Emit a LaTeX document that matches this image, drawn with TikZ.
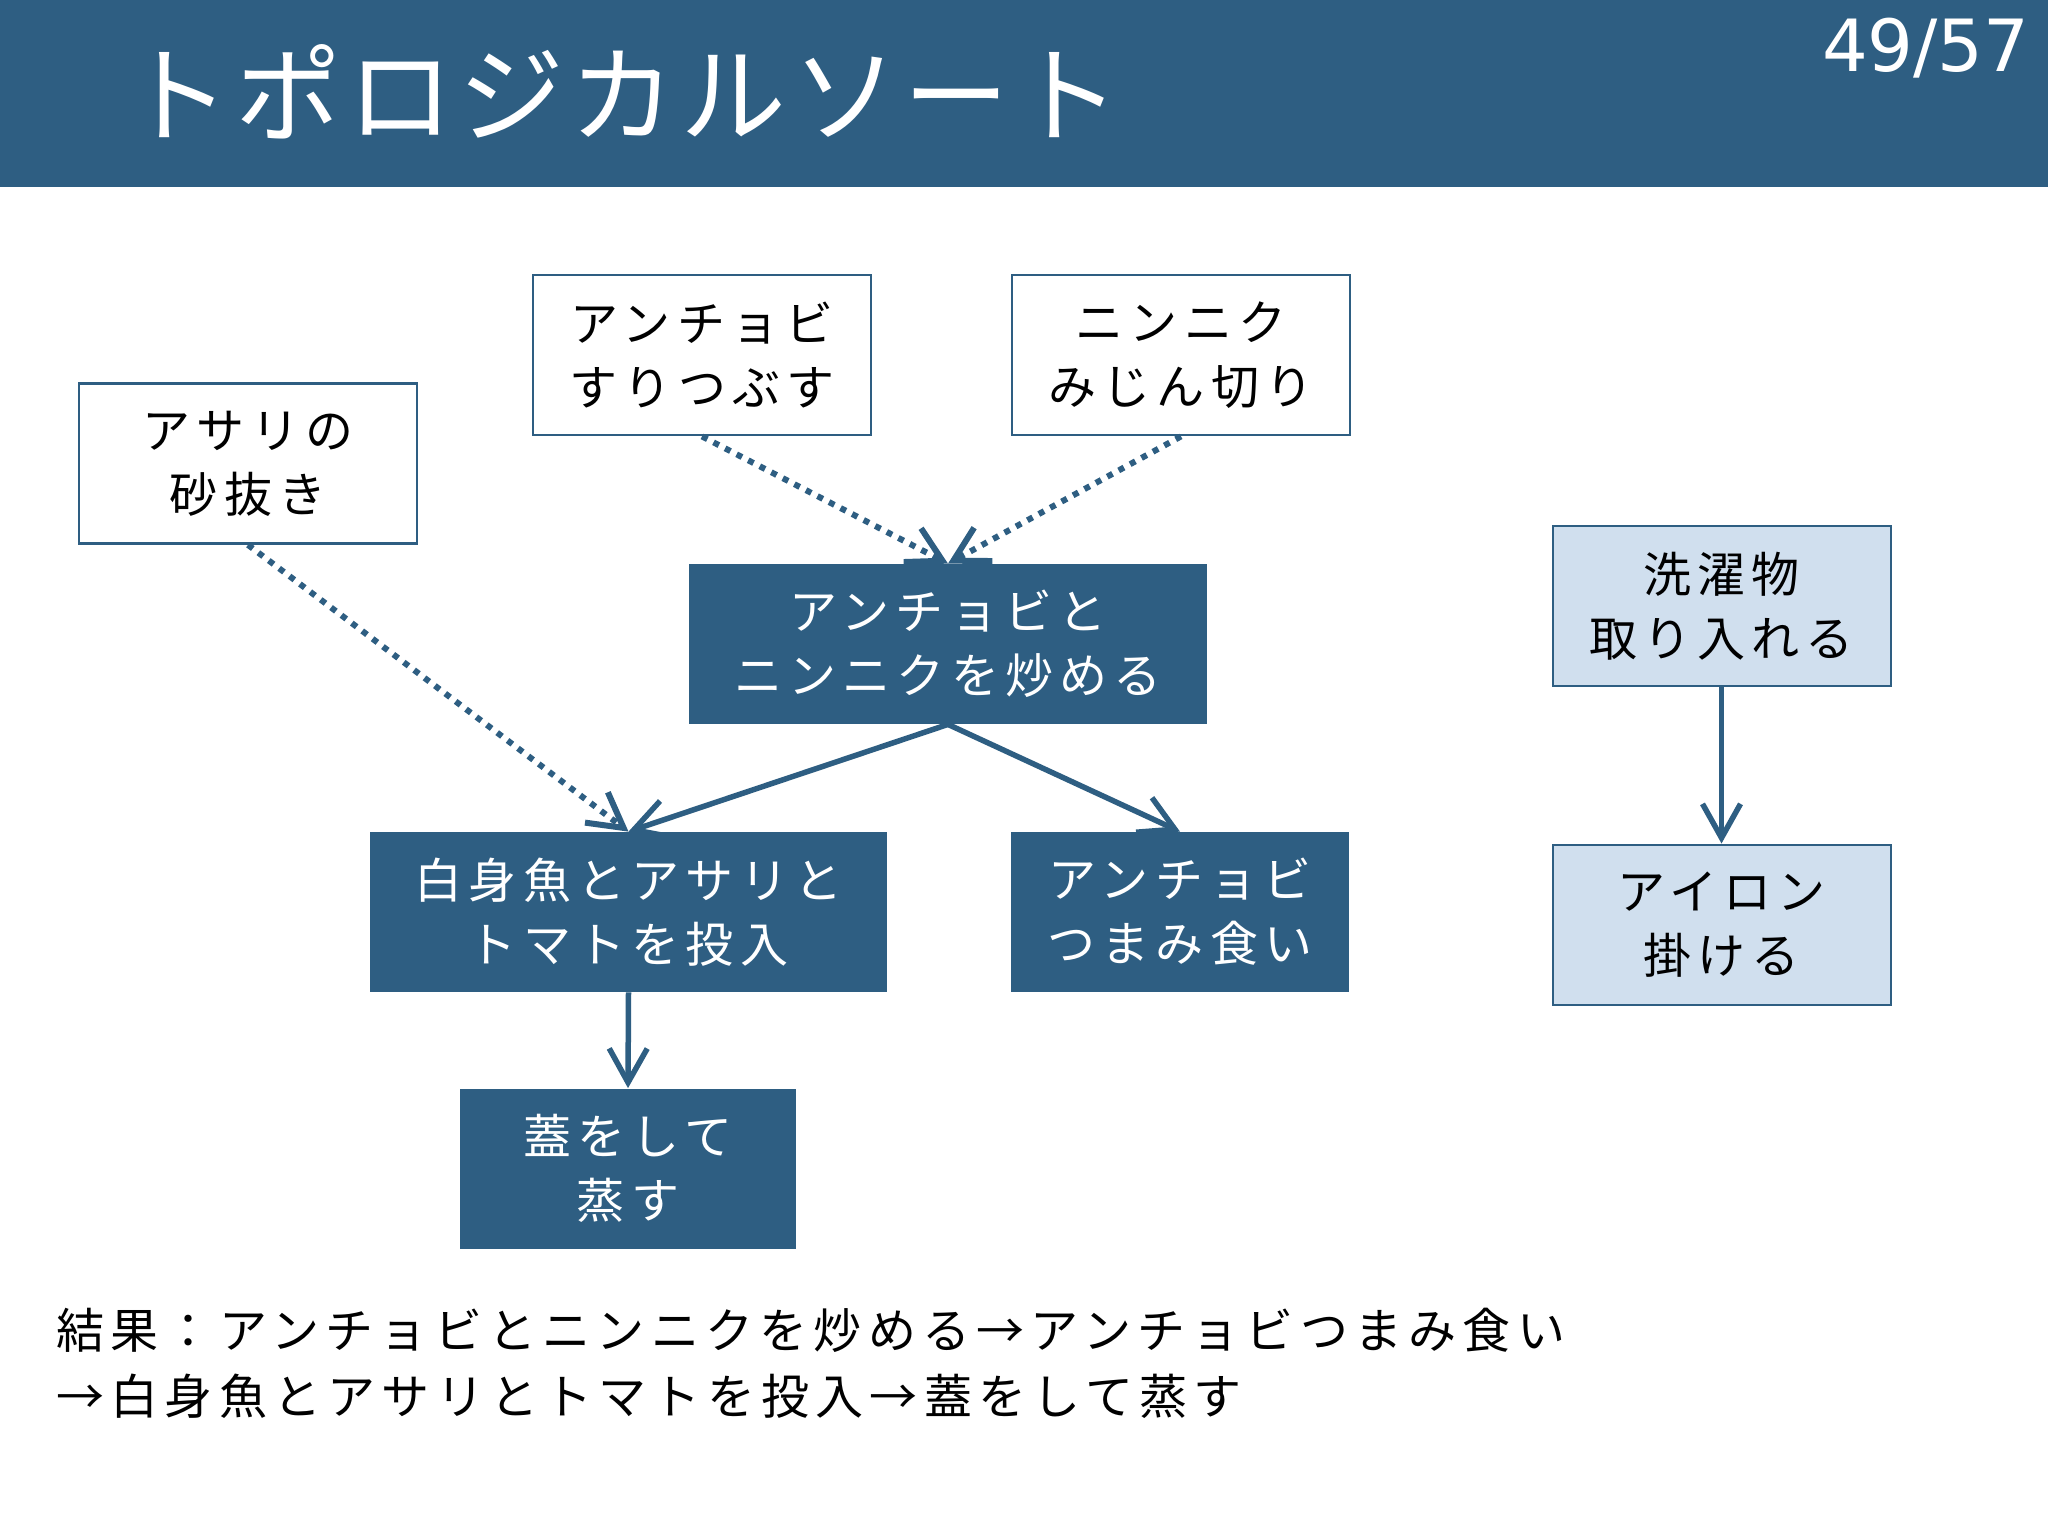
\documentclass[tikz,border=0pt]{standalone}
\usepackage{fontspec}
\setmainfont{Noto Sans CJK JP}[LetterSpace=13]
\newfontfamily\titlefont{Noto Sans CJK JP}[LetterSpace=5]
\newfontfamily\numfont{DejaVu Sans}
\usetikzlibrary{arrows.meta}
\definecolor{dblue}{HTML}{2E5E82}
\definecolor{lblue}{HTML}{D0DFEE}
\tikzset{
  txt/.style={font=\fontsize{24pt}{32pt}\selectfont, align=center, inner sep=0pt},
  wbox/.style={txt, draw=dblue, line width=1.4pt, fill=white, text=black, minimum width=169pt, minimum height=80pt},
  dbox/.style={txt, fill=dblue, text=white, minimum height=80pt},
  lbox/.style={txt, draw=dblue, line width=1pt, fill=lblue, text=black, minimum width=169pt, minimum height=80pt},
  solidarr/.style={draw=dblue, line width=2.75pt, -{Straight Barb[length=17pt,width=19pt]}},
  dotarr/.style={draw=dblue, line width=3pt, dash pattern=on 3pt off 3.5pt, -{Straight Barb[length=17pt,width=19pt]}},
}
\begin{document}
\begin{tikzpicture}[x=0.5pt,y=-0.5pt]
\useasboundingbox (0,0) rectangle (2048,1536);
\fill[white] (0,0) rectangle (2048,1536);
\fill[dblue] (0,0) rectangle (2048,187);
\node[anchor=west, inner sep=0pt, text=white, font=\titlefont\fontsize{53pt}{60pt}\selectfont] (title) at (124,92) {トポロジカルソート};
\node[anchor=east, inner sep=0pt, text=white, font=\numfont\fontsize{36pt}{40pt}\selectfont] (page) at (2030,48) {49/57};

\node[wbox] (asari) at (248,463.5) {アサリの\\砂抜き};
\node[wbox] (anc1) at (702,355) {アンチョビ\\すりつぶす};
\node[wbox] (nin) at (1181,355) {ニンニク\\みじん切り};
\node[dbox, minimum width=259pt] (itame) at (948,644) {アンチョビと\\ニンニクを炒める};
\node[dbox, minimum width=258.5pt] (shiro) at (628.5,912) {白身魚とアサリと\\トマトを投入};
\node[dbox, minimum width=169pt] (tsumami) at (1180,912) {アンチョビ\\つまみ食い};
\node[dbox, minimum width=168pt] (futa) at (628,1168.5) {蓋をして\\蒸す};
\node[lbox] (sentaku) at (1721.5,606) {洗濯物\\取り入れる};
\node[lbox] (airon) at (1721.5,924.5) {アイロン\\掛ける};

\draw[dotarr] (anc1.south) -- (itame.north);
\draw[dotarr] (nin.south) -- (itame.north);
\draw[dotarr] (asari.south) -- (shiro.north);
\draw[solidarr] (itame.south) -- (shiro.north);
\draw[solidarr] (itame.south) -- (tsumami.north);
\draw[solidarr] (shiro.south) -- (futa.north);
\draw[solidarr] (sentaku.south) -- (airon.north);

\node[anchor=west, inner sep=0pt, align=left, font=\fontsize{24pt}{33pt}\selectfont] (result) at (56,1363) {結果：アンチョビとニンニクを炒める→アンチョビつまみ食い\\→白身魚とアサリとトマトを投入→蓋をして蒸す};
\end{tikzpicture}
\end{document}
